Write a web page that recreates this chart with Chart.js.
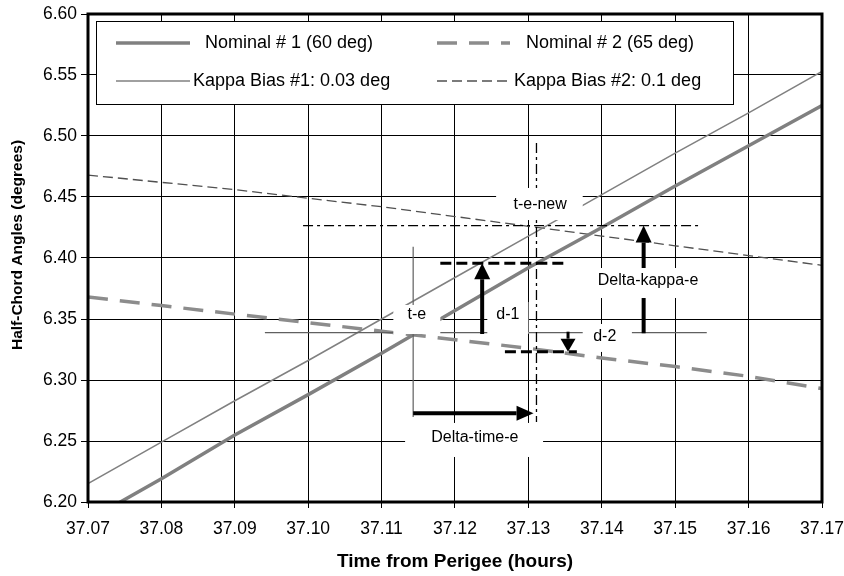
<!DOCTYPE html>
<html>
<head>
<meta charset="utf-8">
<title>Half-Chord Angles vs Time from Perigee</title>
<script src="https://cdn.jsdelivr.net/npm/chart.js@4.4.1/dist/chart.umd.min.js"></script>
<style>
    html, body { margin: 0; padding: 0; background: #fff; }
    canvas { display: block; }
</style>
</head>
<body>
<canvas id="halfChordChart" width="844" height="576"></canvas>
<script>
// Time from perigee (hours), one sample every 0.01 h
const times = [37.07, 37.08, 37.09, 37.10, 37.11, 37.12, 37.13, 37.14, 37.15, 37.16, 37.17];

// Half-chord angles (degrees)
const nominal1   = [6.185, 6.219, 6.255, 6.288, 6.322, 6.357, 6.392, 6.425, 6.459, 6.492, 6.525];
const nominal2   = [6.368, 6.361, 6.354, 6.347, 6.340, 6.333, 6.326, 6.318, 6.311, 6.303, 6.293];
const kappaBias1 = [6.215, 6.249, 6.283, 6.316, 6.350, 6.384, 6.418, 6.452, 6.486, 6.519, 6.553];
const kappaBias2 = [6.468, 6.462, 6.456, 6.449, 6.442, 6.434, 6.426, 6.418, 6.410, 6.402, 6.394];

// Tick values
const xTickValues = [37.07, 37.08, 37.09, 37.10, 37.11, 37.12, 37.13, 37.14, 37.15, 37.16, 37.17];
const yTickValues = [6.20, 6.25, 6.30, 6.35, 6.40, 6.45, 6.50, 6.55, 6.60];

// Construction lines, [time, angle] end points
const teNewLevel = [[37.0993, 6.4266], [37.1536, 6.4266]];
const teNewTime  = [[37.1311, 6.4943], [37.1311, 6.2656]];
const teTime     = [[37.1143, 6.4093], [37.1143, 6.2697]];
const teLevel    = [[37.0941, 6.3388], [37.1543, 6.3388]];
const d1Level    = [[37.1180, 6.3957], [37.1354, 6.3957]];
const d2Level    = [[37.1268, 6.3232], [37.1366, 6.3232]];

// Arrows, [from, to]
const d1Arrow         = [[37.1237, 6.3377], [37.1237, 6.3957]];
const d2Arrow         = [[37.1354, 6.3396], [37.1354, 6.3232]];
const deltaKappaArrow = [[37.1457, 6.3383], [37.1457, 6.4266]];
const deltaTimeArrow  = [[37.1143, 6.2727], [37.1307, 6.2727]];

// Text boxes: label, text anchor, white box corners [t1, a1, t2, a2]
const labelTexts = ['t-e-new', 't-e', 'd-1', 'd-2', 'Delta-kappa-e', 'Delta-time-e'];
const labelAt = [[37.1316, 6.4434], [37.1148, 6.3533], [37.1272, 6.3533],
                 [37.1404, 6.3353], [37.1463, 6.3812], [37.1227, 6.2525]];
const labelBoxes = [
    [37.1256, 6.4574, 37.1374, 6.4311],
    [37.1116, 6.3615, 37.1180, 6.3377],
    [37.1244, 6.3639, 37.1300, 6.3377],
    [37.1374, 6.3459, 37.1441, 6.3230],
    [37.1392, 6.3918, 37.1534, 6.3672],
    [37.1132, 6.2648, 37.1320, 6.2369]
];

const yTitle = 'Half-Chord Angles (degrees)';
const FONT = "'Liberation Sans', Arial, sans-serif";

function toPoints(ys) {
    return times.map((t, i) => ({ x: t, y: ys[i] }));
}
function toSegment(seg) {
    return seg.map(p => ({ x: p[0], y: p[1] }));
}

// helper for the plain construction lines
function guide(seg, color, width, dash) {
    return {
        label: '',
        data: toSegment(seg),
        borderColor: color,
        borderWidth: width,
        borderDash: dash,
        pointRadius: 0,
        fill: false,
        tension: 0,
        order: 0
    };
}

function drawArrow(ctx, x1, y1, x2, y2, shaft, headLen, headW) {
    const ang = Math.atan2(y2 - y1, x2 - x1);
    const bx = x2 - headLen * Math.cos(ang);
    const by = y2 - headLen * Math.sin(ang);
    ctx.lineWidth = shaft;
    ctx.beginPath();
    ctx.moveTo(x1, y1);
    ctx.lineTo(bx, by);
    ctx.stroke();
    ctx.beginPath();
    ctx.moveTo(x2, y2);
    ctx.lineTo(bx + headW / 2 * Math.sin(ang), by - headW / 2 * Math.cos(ang));
    ctx.lineTo(bx - headW / 2 * Math.sin(ang), by + headW / 2 * Math.cos(ang));
    ctx.closePath();
    ctx.fill();
}

// Frame, arrows, text boxes, boxed legend and the y title
const overlayPlugin = {
    id: 'overlay',
    afterDatasetsDraw(chart) {
        const { ctx, chartArea: a, scales } = chart;
        const px = v => scales.x.getPixelForValue(v);
        const py = v => scales.y.getPixelForValue(v);

        ctx.save();

        // plot frame
        ctx.strokeStyle = '#000';
        ctx.lineWidth = 3;
        ctx.strokeRect(a.left, a.top, a.right - a.left, a.bottom - a.top);

        // arrows
        ctx.fillStyle = '#000';
        ctx.strokeStyle = '#000';
        [[d1Arrow, 4, 16, 16], [d2Arrow, 3, 13, 15], [deltaKappaArrow, 4, 17, 16], [deltaTimeArrow, 4, 17, 15]]
            .forEach(([seg, w, hl, hw]) => {
                drawArrow(ctx, px(seg[0][0]), py(seg[0][1]), px(seg[1][0]), py(seg[1][1]), w, hl, hw);
            });

        // white text boxes
        ctx.font = '16px ' + FONT;
        ctx.textAlign = 'center';
        ctx.textBaseline = 'middle';
        labelTexts.forEach((txt, i) => {
            const b = labelBoxes[i];
            ctx.fillStyle = '#fff';
            ctx.fillRect(px(b[0]), py(b[1]), px(b[2]) - px(b[0]), py(b[3]) - py(b[1]));
            ctx.fillStyle = '#000';
            ctx.fillText(txt, px(labelAt[i][0]), py(labelAt[i][1]));
        });

        // legend box
        const lx = a.left + 8, ly = a.top + 7;
        ctx.fillStyle = '#fff';
        ctx.fillRect(lx, ly, 637, 83);
        ctx.strokeStyle = '#000';
        ctx.lineWidth = 1;
        ctx.strokeRect(lx + 0.5, ly + 0.5, 637, 83);

        // [dataset, sample start, sample end, text x, row y]
        const entries = [
            [0, 20, 94, 109, 22],
            [1, 341, 414, 430, 22],
            [2, 20, 94, 97, 60],
            [3, 341, 412, 418, 60]
        ];
        ctx.font = '18px ' + FONT;
        ctx.textAlign = 'left';
        entries.forEach(([di, s1, s2, tx, ry]) => {
            const ds = chart.data.datasets[di];
            ctx.save();
            ctx.strokeStyle = ds.borderColor;
            ctx.lineWidth = ds.borderWidth;
            ctx.setLineDash(ds.borderDash || []);
            ctx.beginPath();
            ctx.moveTo(lx + s1, ly + ry);
            ctx.lineTo(lx + s2, ly + ry);
            ctx.stroke();
            ctx.restore();
            ctx.fillStyle = '#000';
            ctx.fillText(ds.label, lx + tx, ly + ry);
        });

        // y axis title, sits a little above the plot centre as in the source
        ctx.translate(18, a.top + 231);
        ctx.rotate(-Math.PI / 2);
        ctx.textAlign = 'center';
        ctx.font = 'bold 15.5px ' + FONT;
        ctx.fillText(yTitle, 0, 0);

        ctx.restore();
    }
};

const ctx = document.getElementById('halfChordChart').getContext('2d');
const halfChordChart = new Chart(ctx, {
    type: 'line',
    data: {
        datasets: [
            {
                label: 'Nominal # 1 (60 deg)',
                data: toPoints(nominal1),
                borderColor: '#808080',
                borderWidth: 3.5,
                pointRadius: 0,
                fill: false,
                tension: 0,
                order: 1
            },
            {
                label: 'Nominal # 2 (65 deg)',
                data: toPoints(nominal2),
                borderColor: '#8c8c8c',
                borderWidth: 3.5,
                borderDash: [20, 12],
                pointRadius: 0,
                fill: false,
                tension: 0,
                order: 1
            },
            {
                label: 'Kappa Bias #1: 0.03 deg',
                data: toPoints(kappaBias1),
                borderColor: '#808080',
                borderWidth: 1.5,
                pointRadius: 0,
                fill: false,
                tension: 0,
                order: 1
            },
            {
                label: 'Kappa Bias #2: 0.1 deg',
                data: toPoints(kappaBias2),
                borderColor: '#505050',
                borderWidth: 1.3,
                borderDash: [10, 5],
                pointRadius: 0,
                fill: false,
                tension: 0,
                order: 1
            },
            guide(teNewLevel, '#000', 1.3, [10, 4, 3, 4]),
            guide(teNewTime, '#000', 1.3, [10, 4, 3, 4]),
            guide(teTime, '#606060', 1.2, []),
            guide(teLevel, '#606060', 1.2, []),
            guide(d1Level, '#000', 3, [11, 5]),
            guide(d2Level, '#000', 3, [11, 5])
        ]
    },
    options: {
        responsive: false,
        animation: false,
        layout: { padding: { top: 14, right: 22, left: 0, bottom: 0 } },
        plugins: {
            legend: { display: false },
            tooltip: { enabled: false }
        },
        scales: {
            x: {
                type: 'linear',
                min: 37.07,
                max: 37.17,
                afterBuildTicks: scale => { scale.ticks = xTickValues.map(v => ({ value: v })); },
                afterFit: scale => {
                    scale.height = 74;
                    scale.paddingLeft = 0;
                    scale.paddingRight = 0;
                },
                grid: { color: '#000', lineWidth: 1, tickLength: 6 },
                border: { display: false },
                ticks: {
                    autoSkip: false,
                    maxRotation: 0,
                    padding: 11,
                    color: '#000',
                    font: { family: FONT, size: 17.5 },
                    callback: v => v.toFixed(2)
                },
                title: {
                    display: true,
                    text: 'Time from Perigee (hours)',
                    color: '#000',
                    font: { family: FONT, size: 19, weight: 'bold' },
                    padding: { top: 0, bottom: 3 }
                }
            },
            y: {
                min: 6.20,
                max: 6.60,
                afterBuildTicks: scale => { scale.ticks = yTickValues.map(v => ({ value: v })); },
                afterFit: scale => {
                    scale.width = 88;
                    scale.paddingTop = 0;
                    scale.paddingBottom = 0;
                },
                grid: { color: '#000', lineWidth: 1, tickLength: 7 },
                border: { display: false },
                ticks: {
                    padding: 4,
                    color: '#000',
                    font: { family: FONT, size: 17.5 },
                    callback: v => v.toFixed(2)
                }
            }
        }
    },
    plugins: [overlayPlugin]
});
</script>
</body>
</html>
